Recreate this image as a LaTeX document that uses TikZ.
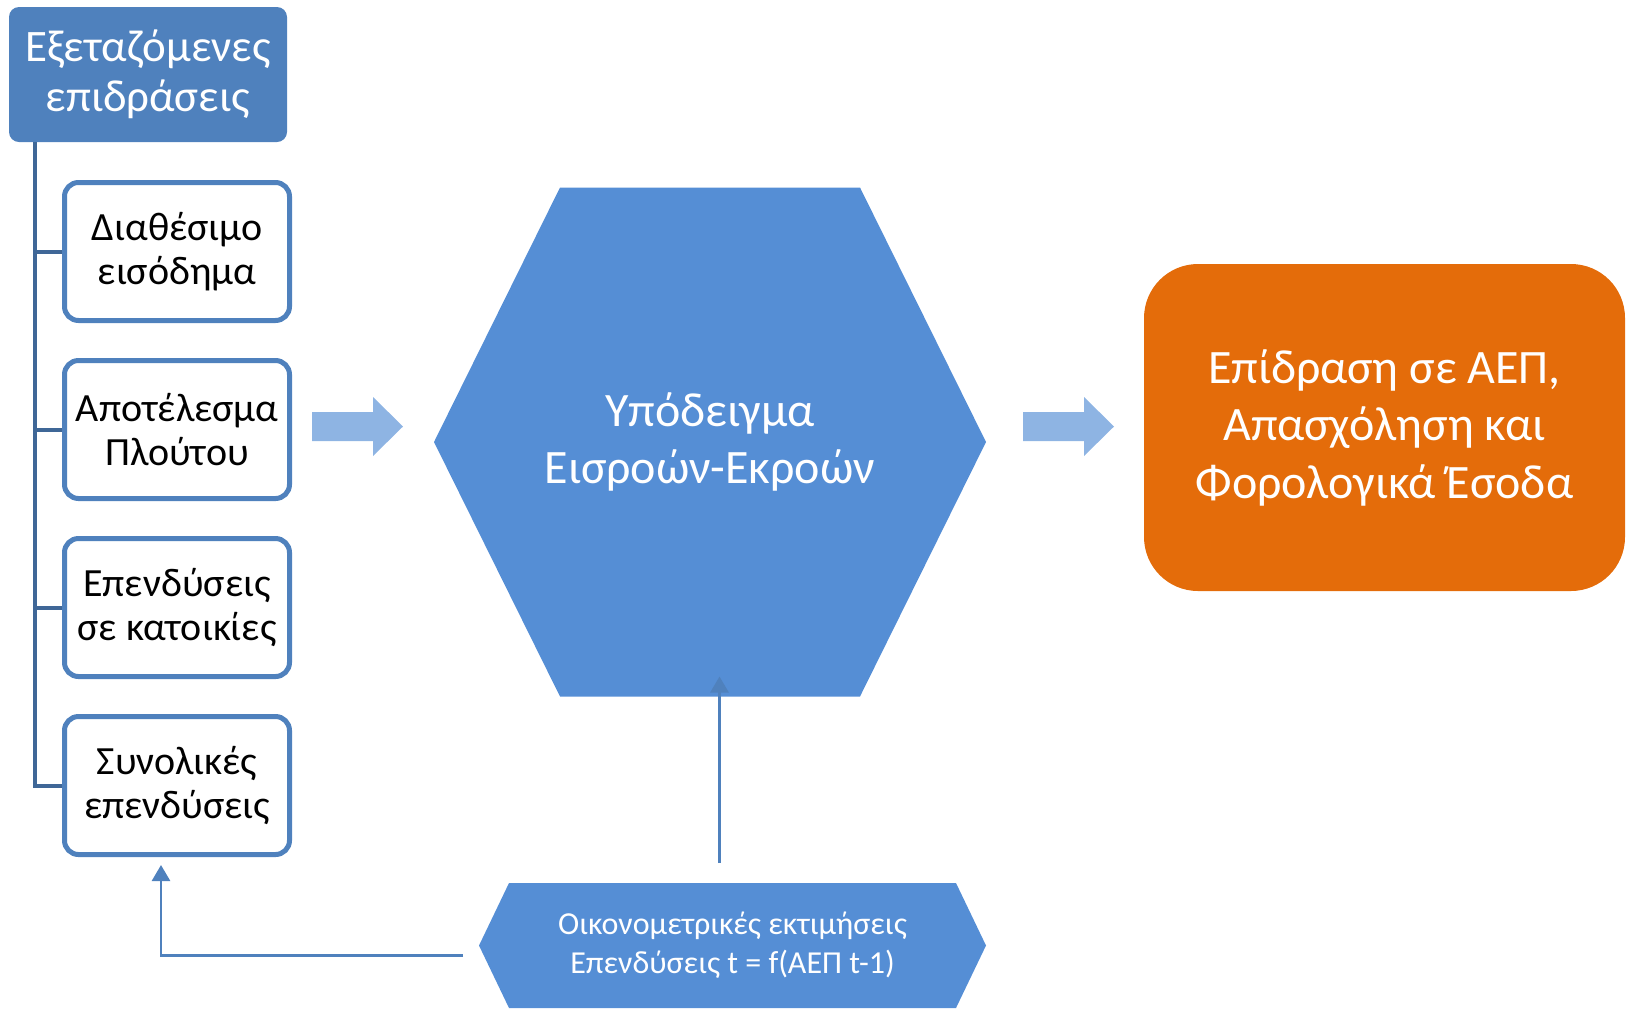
\documentclass[tikz,border=0pt]{standalone}
\usepackage{fontspec}
\setmainfont{Carlito}
\usetikzlibrary{arrows.meta,backgrounds,positioning}
\usepackage{xcolor}
\definecolor{headblue}{HTML}{4F81BD}
\definecolor{treeblue}{HTML}{3F6797}
\definecolor{hexblue}{HTML}{558ED5}
\definecolor{arrowblue}{HTML}{8EB4E3}
\definecolor{resultorange}{HTML}{E46C0A}

\tikzset{
  headbox/.style={fill=headblue, rounded corners=5pt, text=white, align=center,
    minimum width=139pt, minimum height=67.5pt, inner sep=0pt,
    font=\fontsize{22.5}{25}\selectfont},
  effectbox/.style={draw=headblue, line width=2.5pt, fill=white, rounded corners=7pt,
    minimum width=112.5pt, minimum height=69pt, inner sep=0pt, align=center,
    font=\fontsize{20}{22}\selectfont},
  hexlabel/.style={inner sep=0pt, outer sep=0pt, align=center, text=white},
  resultbox/.style={fill=resultorange, rounded corners=27pt, text=white, align=center,
    minimum width=240.5pt, minimum height=163.5pt, inner sep=0pt,
    font=\fontsize{24}{28.75}\selectfont},
  treeline/.style={treeblue, line width=2pt},
  linkarrow/.style={headblue, line width=1.4pt, -{Triangle[width=9pt,length=8pt]}},
}

\begin{document}
\begin{tikzpicture}[x=0.5pt, y=-0.5pt]

% === Wymiary ===
\useasboundingbox (0,0) rectangle (1627,1008);

% === Naglowek ===
\node[headbox] (topbox) at (148,74.5) {Εξεταζόμενες\\επιδράσεις};

% === Cztery efekty ===
\node[effectbox] (d1) at (177,251.5) {Διαθέσιμο\\εισόδημα};
\node[effectbox, below=17.5pt of d1] (d2) {Αποτέλεσμα\\Πλούτου};
\node[effectbox, below=17.5pt of d2] (d3) {Επενδύσεις\\σε κατοικίες};
\node[effectbox, below=17.5pt of d3] (d4) {Συνολικές\\επενδύσεις};

% === Drzewko ===
\coordinate (trunk) at ([xshift=13pt]topbox.south west);
\foreach \b in {d1,d2,d3,d4} {
  \draw[treeline] (trunk) |- (\b.west);
}

% === Model (szesciokat) ===
\node[hexlabel, minimum width=276pt, minimum height=254.5pt,
  font=\fontsize{24}{28.75}\selectfont] (model) at (710,442)
  {Υπόδειγμα\\Εισροών-Εκροών};

% === Szacunki (dolny szesciokat) ===
\node[hexlabel, minimum width=253.5pt, minimum height=62.5pt,
  font=\fontsize{16}{19.5}\selectfont] (estim) at (732.5,945.5)
  {Οικονομετρικές εκτιμήσεις\\Επενδύσεις t = f(ΑΕΠ t-1)};

\begin{scope}[on background layer]
  \fill[hexblue] (model.west) -- ([xshift=63pt]model.north west)
    -- ([xshift=-63pt]model.north east) -- (model.east)
    -- ([xshift=-63pt]model.south east) -- ([xshift=63pt]model.south west) -- cycle;
  \fill[hexblue] (estim.west) -- ([xshift=15pt]estim.north west)
    -- ([xshift=-15pt]estim.north east) -- (estim.east)
    -- ([xshift=-15pt]estim.south east) -- ([xshift=15pt]estim.south west) -- cycle;
\end{scope}

% === Wynik ===
\node[resultbox] (result) at (1384.5,427.5)
  {Επίδραση σε ΑΕΠ,\\Απασχόληση και\\Φορολογικά Έσοδα};

% === Strzalki blokowe ===
\foreach \sx in {312,1023} {
  \fill[arrowblue] (\sx,412) -- ++(61,0) -- ++(0,-15) -- ++(30,29.5)
    -- ++(-30,29.5) -- ++(0,-15) -- ++(-61,0) -- cycle;
}

% === Polaczenia ===
\draw[linkarrow] ([xshift=-6.5pt,yshift=10pt]estim.north)
  -- ([xshift=-6.5pt,yshift=10pt]estim.north |- model.south);
\draw[linkarrow] ([xshift=-8pt,yshift=-5pt]estim.west)
  -| ([xshift=-8pt,yshift=-4pt]d4.south);

\end{tikzpicture}
\end{document}
